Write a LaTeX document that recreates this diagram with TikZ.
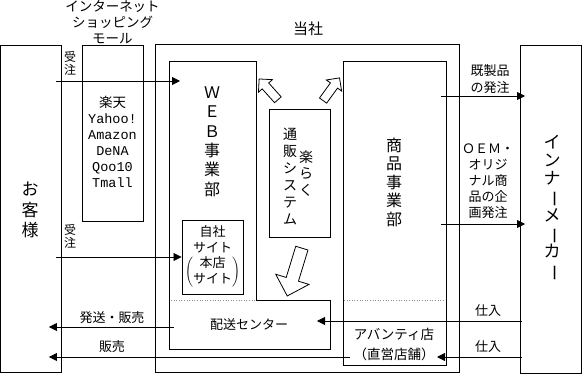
\documentclass[tikz,border=0pt]{standalone}
\usepackage{fontspec}
\setmainfont{Noto Sans CJK JP}
\newfontfamily\latinfont{Liberation Mono}
\usetikzlibrary{arrows.meta,shapes.arrows}
\newcommand{\tatebar}{\rotatebox[origin=c]{-90}{ー}}

\begin{document}
\begin{tikzpicture}[x=1pt,y=-1pt,
  every node/.style={font=\fontsize{13}{16}\selectfont,inner sep=0pt},
  box/.style={draw=black,line width=0.9pt},
  vtext/.style={align=center,font=\fontsize{16}{19.4}\selectfont},
  ar/.style={-{Triangle[length=8pt,width=8pt]},line width=0.8pt},
  fat/.style={draw=black,fill=white,line width=0.8pt,single arrow,single arrow head extend=5pt,inner sep=4pt,minimum height=28pt},
  bigfat/.style={fat,single arrow head extend=11pt,inner sep=6pt,minimum height=50pt},
  sep/.style={draw=black!45,dotted,line width=0.6pt}]
\useasboundingbox (0,0) rectangle (582,375);
% customers and mall
\node[box,minimum width=61pt,minimum height=327pt] (cust) at (31,208.5) {};
\node[vtext,font=\fontsize{17}{20.5}\selectfont] (custtxt) at (30,210) {お\\客\\様};
\node[align=center,font=\fontsize{13.5}{16}\selectfont] (malltitle) at (112.5,22) {インターネット\\ショッピング\\モール};
\node[box,minimum width=61pt,minimum height=176pt] (mall) at (112.5,133) {};
\node[align=center,font=\fontsize{13.5}{16}\selectfont\latinfont] (malllist) at (112.5,142) {{\rmfamily 楽天}\\Yahoo!\\Amazon\\DeNA\\Qoo10\\Tmall};
% company
\node[font=\fontsize{15}{18}\selectfont] (compname) at (308,29) {当社};
\node[box,minimum width=304pt,minimum height=328pt] (comp) at (307,208) {};
\draw[box] (169,61) -- (256,61) -- (256,300) -- (330,300) -- (330,349) -- (169,349) -- cycle;
\node[vtext] (web) at (212,141.5) {Ｗ\\Ｅ\\Ｂ\\事\\業\\部};
\node[box,minimum width=61pt,minimum height=74pt,font=\fontsize{13}{15.5}\selectfont] (jisha) at (212.5,257) {\begin{tabular}{@{}c@{}}自社\\サイト\\$\left(\begin{tabular}{@{}c@{}}本店\\サイト\end{tabular}\right)$\end{tabular}};
\node[box,minimum width=61pt,minimum height=128pt] (tsuhan) at (299.5,173) {};
\node[align=center,font=\fontsize{14}{17}\selectfont] (tsuhantxt) at (290,176.5) {通\\販\\シ\\ス\\テ\\ム};
\node[align=center,font=\fontsize{14}{16.5}\selectfont] (rakutxt) at (306,173.5) {楽\\ら\\く};
\node[box,minimum width=103pt,minimum height=304pt] (shop) at (394.5,213) {};
\node[vtext,font=\fontsize{16}{18.5}\selectfont] (shoptxt) at (394,182) {商\\品\\事\\業\\部};
\draw[sep] (171,300) -- (255,300);
\draw[sep] (344,300) -- (445,300);
\node (haiso) at (249,325) {配送センター};
\node[align=center,font=\fontsize{13.5}{20}\selectfont] (avanti) at (394,344) {アバンティ店\\（直営店舗）};
\node[fat,rotate=132] (upleft) at (270,91) {};
\node[fat,rotate=54] (upright) at (330,91) {};
\node[bigfat,rotate=-107] (down) at (295.5,269) {};
% maker
\node[box,minimum width=61pt,minimum height=328pt] (maker) at (551,209) {};
\node[vtext,font=\fontsize{17}{18.3}\selectfont] (makertxt) at (552,208) {イ\\ン\\ナ\\\tatebar\\メ\\\tatebar\\カ\\\tatebar};
% flows
\coordinate (webin) at (180,81);
\coordinate (shipout) at (174,327);
\coordinate (saleout) at (350,357);
\coordinate (ready) at (525,96);
\coordinate (oem) at (525,224);
\coordinate (buyin) at (317,321);
\coordinate (buyshop) at (437,357);
\draw[ar] ([xshift=-6pt]cust.east |- webin) -- (webin);
\draw[ar] ([xshift=-6pt]cust.east |- jisha.west) -- (jisha.west);
\draw[ar] (shipout) -- ([xshift=-13pt]cust.east |- shipout);
\draw[ar] (saleout) -- ([xshift=-13pt]cust.east |- saleout);
\draw[ar] ([xshift=-5pt]shop.east |- ready) -- (ready);
\draw[ar] ([xshift=-5pt]shop.east |- oem) -- (oem);
\draw[ar] ([xshift=2pt]maker.west |- buyin) -- (buyin);
\draw[ar] ([xshift=2pt]maker.west |- buyshop) -- (buyshop);
\node[align=center,font=\fontsize{12}{13}\selectfont] (ord1) at (70,63) {受\\注};
\node[align=center,font=\fontsize{12}{13}\selectfont] (ord2) at (70,236) {受\\注};
\node (shipl) at (112,318) {発送・販売};
\node (salel) at (112,347) {販売};
\node[align=center,font=\fontsize{13}{17}\selectfont] (readyl) at (490,79.5) {既製品\\の発注};
\node[align=center,font=\fontsize{13}{16}\selectfont] (oeml) at (488,181) {ＯＥＭ・\\オリジ\\ナル商\\品の企\\画発注};
\node (buyl1) at (488,311) {仕入};
\node (buyl2) at (488,347) {仕入};
\end{tikzpicture}
\end{document}
